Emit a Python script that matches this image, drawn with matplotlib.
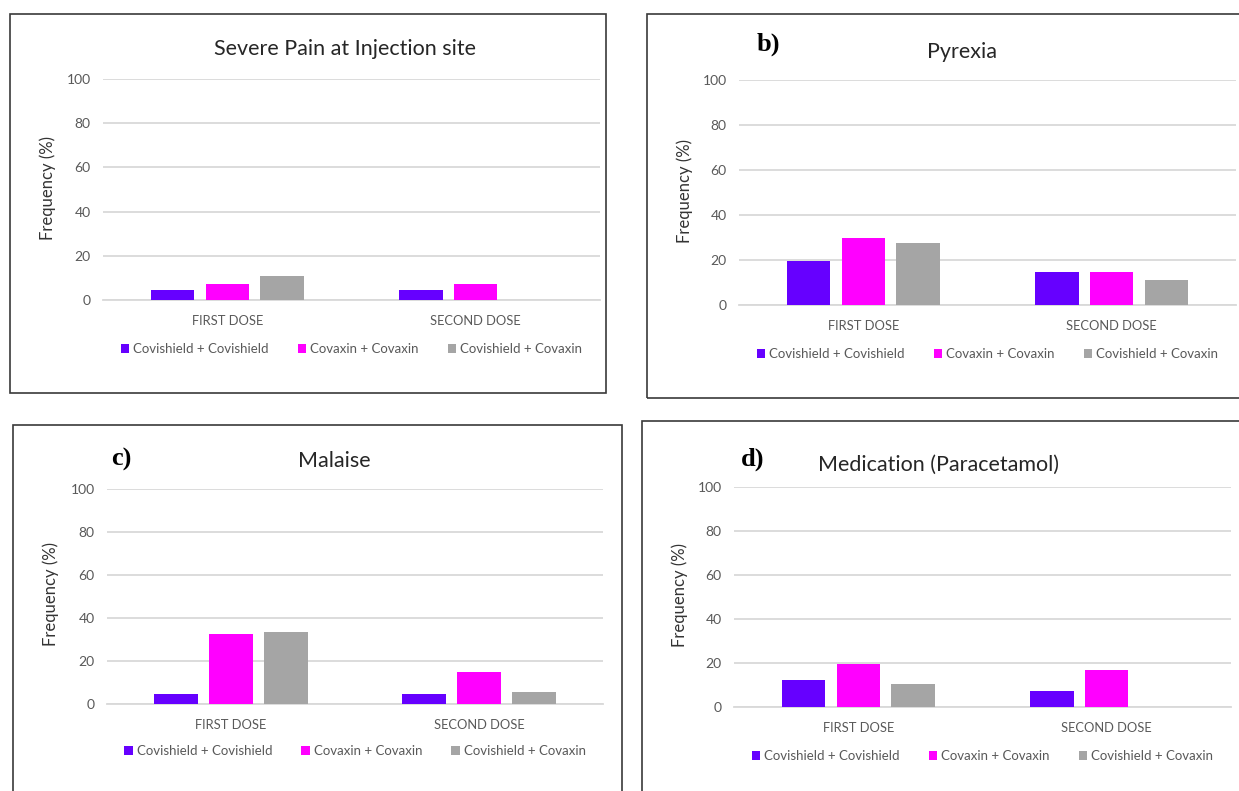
import matplotlib
matplotlib.use("Agg")
import numpy as np
import matplotlib.pyplot as plt
from matplotlib.patches import Rectangle

plt.rcParams["font.family"] = ["Lato", "DejaVu Sans"]

W, H = 1239, 791

# --- データ ---
doses = ["FIRST DOSE", "SECOND DOSE"]
groups = ["Covishield + Covishield", "Covaxin + Covaxin", "Covishield + Covaxin"]
colors = ["#6600FF", "#FF00FF", "#A5A5A5"]

pain_cs = [4.5, 4.5]
pain_cv = [7.1, 7.1]
pain_mix = [10.7, 0]

pyrexia_cs = [19.6, 14.8]
pyrexia_cv = [29.8, 14.8]
pyrexia_mix = [27.7, 11.0]

malaise_cs = [4.7, 4.7]
malaise_cv = [32.4, 14.9]
malaise_mix = [33.3, 5.4]

med_cs = [12.4, 7.1]
med_cv = [19.5, 16.8]
med_mix = [10.6, 0]


def fx(x):
    return x / W


def fy(y):
    return 1 - y / H


def panel(box, ax_px, title, title_xy, letter, letter_xy, ylab_xy, leg_y, series):
    # box: left, top, right, bottom (px)
    l, t, r, b = box
    fig.patches.append(Rectangle((fx(l), fy(b)), fx(r - l), (b - t) / H,
                                 transform=fig.transFigure, fill=False,
                                 ec="#3a3a3a", lw=1.2, zorder=0))
    x0, y0, x1, y100 = ax_px
    ax = fig.add_axes([fx(x0), fy(y0), fx(x1 - x0), (y0 - y100) / H])
    x = np.arange(len(doses))
    step = 0.221
    width = 0.175
    for i, vals in enumerate(series):
        ax.bar(x + (i - 1) * step, vals, width, color=colors[i], label=groups[i], zorder=3)
    ax.set_xlim(-0.5, 1.5)
    ax.set_ylim(0, 100)
    ax.set_yticks(range(0, 101, 20))
    ax.set_xticks(x)
    ax.set_xticklabels(doses)
    ax.grid(axis="y", color="#d9d9d9", lw=1.3, zorder=0)
    ax.set_axisbelow(True)
    for s in ax.spines.values():
        s.set_visible(False)
    ax.tick_params(axis="y", length=0, pad=9, labelsize=10, labelcolor="#595959")
    ax.tick_params(axis="x", length=0, pad=11, labelsize=9.3, labelcolor="#595959")
    # y=0 grid line visible
    ax.axhline(0, color="#d9d9d9", lw=1.3, zorder=1, clip_on=False)
    fig.text(fx(title_xy[0]), fy(title_xy[1]), title, ha="center", va="center",
             fontsize=15.5, color="#262626")
    if letter:
        fig.text(fx(letter_xy[0]), fy(letter_xy[1]), letter, ha="center", va="center",
                 fontsize=19, fontweight="bold", family=["Liberation Serif", "DejaVu Serif"])
    fig.text(fx(ylab_xy[0]), fy(ylab_xy[1]), "Frequency (%)", rotation=90,
             ha="center", va="center", fontsize=12, color="#333333")
    ax.legend(loc="center", bbox_to_anchor=(fx((x0 + x1) / 2), fy(leg_y)),
              bbox_transform=fig.transFigure, ncol=3, frameon=False,
              fontsize=9.5, handlelength=0.65, handleheight=0.65, handletextpad=0.3,
              columnspacing=2.2, labelcolor="#595959")
    return ax


fig = plt.figure(figsize=(W / 100, H / 100), dpi=100)

panel((10, 14, 606, 393), (103, 300, 600, 79),
      "Severe Pain at Injection site", (345, 49), None, None, (48, 188), 349,
      [pain_cs, pain_cv, pain_mix])

panel((647, 14, 1250, 398), (739, 305, 1236, 80),
      "Pyrexia", (962, 52), "b)", (768, 44), (685, 191), 354,
      [pyrexia_cs, pyrexia_cv, pyrexia_mix])

panel((13, 425, 622, 800), (107, 704, 603, 489),
      "Malaise", (334, 461), "c)", (121, 459), (51, 594), 751,
      [malaise_cs, malaise_cv, malaise_mix])

panel((642, 421, 1250, 800), (734, 707, 1231, 487),
      "Medication (Paracetamol)", (938, 465), "d)", (753, 459), (680, 595), 756,
      [med_cs, med_cv, med_mix])

plt.savefig("out.png", dpi=100)
